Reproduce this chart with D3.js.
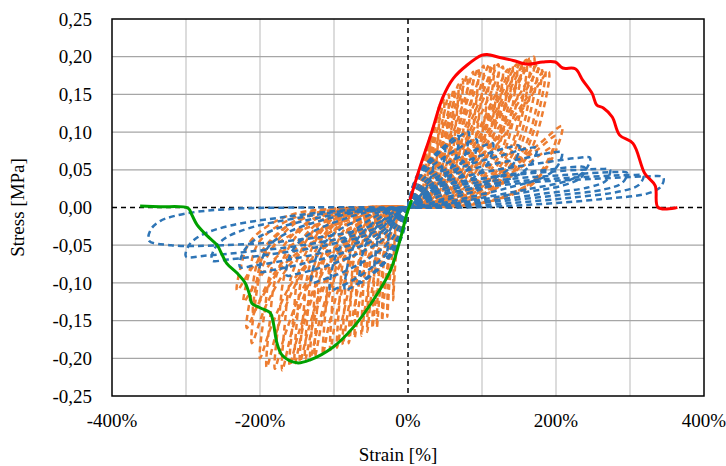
<!DOCTYPE html>
<html lang="it">
<head>
  <meta charset="UTF-8">
  <title>Stress - Strain</title>
  <script src="https://d3js.org/d3.v7.min.js"></script>
  <style>
    body { margin: 0; background: #fff; }
    text { font-family: "Liberation Serif", "Times New Roman", serif; fill: #000; }
  </style>
</head>
<body>
  <div id="my_dataviz"></div>
  <script>
    // ---- dati: [strain %, stress MPa] ----
    var xTicks = [-400, -200, 0, 200, 400];
    var xGrid = [-300, -100, 100, 300];
    var yTicks = [-0.25, -0.20, -0.15, -0.10, -0.05, 0, 0.05, 0.10, 0.15, 0.20, 0.25];

    // inviluppo trazione (rosso)
    var redCurve = [[2.7,0.010],[16,0.053],[32,0.100],[47,0.146],[61,0.171],[80,0.189],[100,0.202],[107,0.203],
      [124,0.199],[142,0.195],[162,0.190],[182,0.193],[199,0.193],[209,0.185],[226,0.184],[236,0.169],[249,0.151],
      [255,0.136],[264,0.132],[276,0.120],[286,0.096],[304,0.085],[320,0.045],[334,0.029],[338,0.000],[364,0.000]];

    // inviluppo compressione (verde)
    var greenCurve = [[-362,0.002],[-335,0.001],[-297,-0.001],[-292,-0.010],[-285,-0.023],[-272,-0.037],[-258,-0.050],
      [-251,-0.063],[-245,-0.074],[-231,-0.087],[-220,-0.100],[-214,-0.116],[-211,-0.127],[-200,-0.133],[-186,-0.140],
      [-182,-0.153],[-177,-0.180],[-170,-0.196],[-150,-0.206],[-132,-0.202],[-101,-0.185],[-74,-0.159],[-47,-0.123],
      [-24,-0.084],[-11,-0.044],[-1.4,-0.008],[5,0.010]];

    // cicli arancioni - trazione
    var orangeTension = [
      [[0,0],[7.5,0.012],[15.5,0.036],[21,0.062],[25,0.08],[24,0.056],[21,0.03],[15,0.01],[6,0.001],[0,0]],
      [[0,0],[10.5,0.017],[22,0.05],[30,0.086],[35,0.11],[33.6,0.077],[30,0.042],[21,0.013],[9,0.001],[0,0]],
      [[0,0],[13,0.021],[27,0.062],[37,0.108],[43,0.138],[41,0.097],[37,0.052],[26,0.017],[11,0.001],[0,0]],
      [[0,0],[16.5,0.023],[34,0.068],[47,0.117],[55,0.15],[53,0.105],[47,0.057],[33,0.018],[14,0.002],[0,0]],
      [[0,0],[20,0.024],[42,0.073],[58,0.127],[68,0.163],[65,0.114],[58,0.062],[41,0.02],[17,0.002],[0,0]],
      [[0,0],[24,0.026],[50,0.079],[68,0.137],[80,0.175],[77,0.123],[68,0.067],[48,0.021],[20,0.002],[0,0]],
      [[0,0],[28.5,0.028],[59,0.083],[81,0.144],[95,0.185],[91,0.13],[81,0.07],[57,0.022],[24,0.002],[0,0]],
      [[0,0],[33,0.029],[68,0.086],[93.5,0.148],[110,0.19],[105.6,0.133],[93.5,0.072],[66,0.023],[27.5,0.002],[0,0]],
      [[0,0],[36.6,0.029],[75.6,0.086],[103.7,0.148],[122,0.19],[117,0.133],[103.7,0.072],[73,0.023],[30.5,0.002],[0,0]],
      [[0,0],[40.5,0.027],[83.7,0.082],[114.8,0.143],[135,0.183],[129.6,0.128],[114.8,0.07],[81,0.022],[33.8,0.002],[0,0]],
      [[0,0],[44,0.029],[91,0.086],[125,0.148],[147,0.19],[141,0.133],[125,0.072],[88,0.023],[37,0.002],[0,0]],
      [[0,0],[48,0.029],[99,0.088],[136,0.153],[160,0.196],[153.6,0.137],[136,0.074],[96,0.024],[40,0.002],[0,0]],
      [[0,0],[51,0.03],[105,0.09],[144.5,0.156],[170,0.2],[163,0.14],[144.5,0.076],[102,0.024],[42.5,0.002],[0,0]],
      [[0,0],[54,0.028],[112,0.084],[153,0.145],[180,0.186],[173,0.13],[153,0.071],[108,0.022],[45,0.002],[0,0]],
      [[0,0],[57,0.027],[118,0.081],[161.5,0.14],[190,0.18],[182,0.126],[161.5,0.068],[114,0.022],[47.5,0.002],[0,0]],
      [[0,0],[62,0.016],[129,0.049],[177,0.084],[208,0.108],[200,0.076],[177,0.041],[125,0.013],[52,0.001],[0,0]],
      [[0,0],[59,0.012],[121.5,0.036],[167,0.062],[196,0.08],[188,0.056],[167,0.03],[118,0.01],[49,0.001],[0,0]],
      [[0,0],[10.5,0.019],[19.5,0.0475],[26,0.076],[30,0.095],[28.5,0.0646],[25,0.033],[17.4,0.0095],[6.6,0.0005],[0,0]],
      [[0,0],[17,0.029],[32,0.0725],[42.6,0.116],[49,0.145],[46.5,0.0986],[40.7,0.051],[28.4,0.0145],[10.8,0.0007],[0,0]],
      [[0,0],[21.7,0.031],[40.3,0.0785],[54,0.126],[62,0.157],[59,0.107],[51.5,0.055],[36,0.016],[13.6,0.0008],[0,0]],
      [[0,0],[26,0.034],[48,0.085],[64.4,0.136],[74,0.17],[70.3,0.116],[61.4,0.0595],[43,0.017],[16.3,0.001],[0,0]],
      [[0,0],[30.8,0.036],[57,0.09],[76.6,0.144],[88,0.18],[83.6,0.122],[73,0.063],[51,0.018],[19.4,0.001],[0,0]],
      [[0,0],[35.7,0.0376],[66,0.094],[88.7,0.15],[102,0.188],[97,0.128],[84.7,0.066],[59,0.019],[22.4,0.001],[0,0]],
      [[0,0],[40.6,0.038],[75.4,0.095],[101,0.152],[116,0.19],[110,0.129],[96,0.0665],[67,0.019],[25.5,0.001],[0,0]],
      [[0,0],[44.8,0.037],[83,0.0935],[111,0.15],[128,0.187],[121.6,0.127],[106,0.065],[74,0.019],[28,0.001],[0,0]],
      [[0,0],[49,0.0376],[91.6,0.094],[122.7,0.15],[141,0.188],[134,0.128],[117,0.066],[82,0.019],[31,0.001],[0,0]],
      [[0,0],[53.6,0.0386],[99.5,0.0965],[133,0.154],[153,0.193],[145,0.131],[127,0.0675],[89,0.019],[33.7,0.001],[0,0]],
      [[0,0],[57.8,0.04],[107,0.099],[143.6,0.158],[165,0.198],[157,0.135],[137,0.069],[96,0.02],[36,0.001],[0,0]],
      [[0,0],[61,0.038],[114,0.095],[152,0.152],[175,0.19],[166,0.129],[145,0.0665],[101.5,0.019],[38.5,0.001],[0,0]],
      [[0,0],[65,0.0366],[120,0.0915],[161,0.146],[185,0.183],[176,0.124],[153.5,0.064],[107,0.018],[40.7,0.001],[0,0]],
      [[0,0],[70,0.019],[130,0.0475],[174,0.076],[200,0.095],[190,0.0646],[166,0.033],[116,0.0095],[44,0.0005],[0,0]]
    ];

    // cicli arancioni - compressione
    var orangeCompression = [
      [[0,0],[-7,-0.012],[-14,-0.043],[-18,-0.086],[-20,-0.123],[-19.6,-0.089],[-18.4,-0.049],[-14,-0.012],[-6,0],[0,0]],
      [[0,0],[-9.8,-0.0145],[-19.6,-0.051],[-25.2,-0.1015],[-28,-0.145],[-27.4,-0.104],[-25.8,-0.058],[-19.6,-0.0145],[-8.4,0],[0,0]],
      [[0,0],[-14.7,-0.016],[-29.4,-0.056],[-37.8,-0.111],[-42,-0.159],[-41,-0.114],[-38.6,-0.064],[-29.4,-0.016],[-12.6,0],[0,0]],
      [[0,0],[-19,-0.0165],[-38.5,-0.058],[-49.5,-0.1155],[-55,-0.165],[-54,-0.119],[-50.6,-0.066],[-38.5,-0.0165],[-16.5,0],[0,0]],
      [[0,0],[-25,-0.017],[-50,-0.061],[-65,-0.121],[-72,-0.173],[-70.6,-0.125],[-66,-0.069],[-50,-0.017],[-21.6,0],[0,0]],
      [[0,0],[-31,-0.018],[-62,-0.064],[-79,-0.127],[-88,-0.182],[-86,-0.131],[-81,-0.073],[-62,-0.018],[-26,0],[0,0]],
      [[0,0],[-37,-0.019],[-73.5,-0.066],[-94.5,-0.132],[-105,-0.189],[-103,-0.136],[-96.6,-0.076],[-73.5,-0.019],[-31.5,0],[0,0]],
      [[0,0],[-44,-0.02],[-88,-0.069],[-113,-0.139],[-126,-0.198],[-123.5,-0.143],[-116,-0.079],[-88,-0.02],[-38,0],[0,0]],
      [[0,0],[-48.6,-0.02],[-97,-0.071],[-125,-0.141],[-139,-0.202],[-136,-0.145],[-128,-0.081],[-97,-0.02],[-42,0],[0,0]],
      [[0,0],[-53.6,-0.021],[-107,-0.072],[-138,-0.145],[-153,-0.207],[-150,-0.149],[-141,-0.083],[-107,-0.021],[-46,0],[0,0]],
      [[0,0],[-59.5,-0.022],[-119,-0.076],[-153,-0.151],[-170,-0.216],[-166.6,-0.156],[-156,-0.086],[-119,-0.022],[-51,0],[0,0]],
      [[0,0],[-67,-0.021],[-134,-0.074],[-172,-0.148],[-191,-0.212],[-187,-0.153],[-176,-0.085],[-134,-0.021],[-57,0],[0,0]],
      [[0,0],[-74,-0.018],[-148,-0.063],[-190,-0.126],[-211,-0.18],[-207,-0.13],[-194,-0.072],[-148,-0.018],[-63,0],[0,0]],
      [[0,0],[-73,-0.014],[-146,-0.049],[-188,-0.098],[-209,-0.14],[-205,-0.101],[-192,-0.056],[-146,-0.014],[-63,0],[0,0]],
      [[0,0],[-81,-0.011],[-162,-0.0385],[-208,-0.077],[-231,-0.11],[-226,-0.079],[-212.5,-0.044],[-162,-0.011],[-69,0],[0,0]],
      [[0,0],[-14,-0.0225],[-26,-0.0675],[-32,-0.117],[-35,-0.15],[-34,-0.105],[-31.5,-0.0525],[-23,-0.012],[-9,0],[0,0]],
      [[0,0],[-19,-0.024],[-36,-0.072],[-44,-0.125],[-48,-0.16],[-46.6,-0.112],[-43,-0.056],[-31,-0.013],[-12,0],[0,0]],
      [[0,0],[-25,-0.0255],[-47,-0.0765],[-58,-0.133],[-63,-0.17],[-61,-0.119],[-57,-0.06],[-41,-0.014],[-16,0],[0,0]],
      [[0,0],[-32,-0.027],[-60,-0.081],[-74,-0.14],[-80,-0.18],[-77.6,-0.126],[-72,-0.063],[-52,-0.014],[-20,0],[0,0]],
      [[0,0],[-38,-0.028],[-72,-0.084],[-88,-0.145],[-96,-0.186],[-93,-0.13],[-86,-0.065],[-62,-0.015],[-24,0],[0,0]],
      [[0,0],[-46,-0.029],[-86,-0.088],[-106,-0.152],[-115,-0.195],[-111.5,-0.137],[-103.5,-0.068],[-75,-0.016],[-29,0],[0,0]],
      [[0,0],[-53,-0.03],[-99,-0.09],[-121,-0.156],[-132,-0.2],[-128,-0.14],[-119,-0.07],[-86,-0.016],[-33,0],[0,0]],
      [[0,0],[-58,-0.031],[-109.5,-0.092],[-134,-0.16],[-146,-0.205],[-141.6,-0.1435],[-131,-0.072],[-95,-0.016],[-36.5,0],[0,0]],
      [[0,0],[-64,-0.0315],[-120,-0.0945],[-147,-0.164],[-160,-0.21],[-155,-0.147],[-144,-0.0735],[-104,-0.017],[-40,0],[0,0]],
      [[0,0],[-72,-0.032],[-135,-0.096],[-165.6,-0.167],[-180,-0.214],[-174.6,-0.15],[-162,-0.075],[-117,-0.017],[-45,0],[0,0]],
      [[0,0],[-80,-0.03],[-150,-0.09],[-184,-0.156],[-200,-0.2],[-194,-0.14],[-180,-0.07],[-130,-0.016],[-50,0],[0,0]],
      [[0,0],[-87,-0.024],[-163.5,-0.072],[-200.6,-0.125],[-218,-0.16],[-211.5,-0.112],[-196,-0.056],[-142,-0.013],[-54.5,0],[0,0]],
      [[0,0],[-89,-0.019],[-166.5,-0.056],[-204,-0.0975],[-222,-0.125],[-215,-0.0875],[-200,-0.044],[-144,-0.01],[-55.5,0],[0,0]]
    ];

    // cicli blu - trazione
    var blueTension = [
      [[0,0],[60,0.02],[150,0.032],[250,0.038],[320,0.041],[345,0.040],[342,0.028],[325,0.019],[260,0.011],[170,0.004],[80,0.0],[0,0]],
      [[0,0],[50,0.022],[140,0.034],[230,0.04],[300,0.043],[318,0.042],[312,0.03],[290,0.022],[220,0.013],[140,0.006],[60,0.001],[0,0]],
      [[0,0],[45,0.024],[130,0.037],[210,0.043],[280,0.047],[296,0.046],[290,0.033],[265,0.024],[200,0.016],[120,0.008],[50,0.002],[0,0]],
      [[0,0],[40,0.027],[115,0.04],[200,0.048],[260,0.051],[273,0.05],[268,0.036],[245,0.027],[180,0.018],[110,0.009],[45,0.002],[0,0]],
      [[0,0],[40,0.03],[110,0.048],[180,0.059],[232,0.066],[246,0.066],[240,0.05],[220,0.037],[160,0.024],[95,0.012],[40,0.003],[0,0]],
      [[0,0],[40,0.026],[110,0.04],[180,0.049],[228,0.054],[239,0.053],[234,0.04],[212,0.03],[150,0.019],[90,0.009],[35,0.002],[0,0]],
      [[0,0],[35,0.033],[95,0.053],[155,0.065],[196,0.073],[208,0.073],[202,0.055],[185,0.041],[135,0.026],[80,0.013],[30,0.003],[0,0]],
      [[0,0],[30,0.035],[80,0.056],[130,0.07],[164,0.079],[174,0.079],[168,0.06],[152,0.045],[110,0.028],[65,0.014],[25,0.003],[0,0]],
      [[0,0],[25,0.036],[70,0.058],[112,0.073],[141,0.081],[150,0.082],[145,0.062],[131,0.047],[95,0.029],[55,0.014],[20,0.003],[0,0]],
      [[0,0],[20,0.037],[55,0.06],[88,0.075],[108,0.084],[115,0.085],[111,0.065],[100,0.049],[73,0.03],[42,0.015],[15,0.003],[0,0]],
      [[0,0],[16,0.04],[45,0.064],[71,0.08],[87,0.089],[93,0.09],[90,0.068],[81,0.051],[59,0.032],[34,0.016],[12,0.003],[0,0]],
      [[0,0],[14,0.044],[40,0.071],[63,0.089],[77,0.099],[82,0.1],[79,0.076],[71,0.057],[52,0.035],[30,0.018],[10,0.004],[0,0]],
      [[0,0],[12,0.042],[33,0.067],[52,0.084],[64,0.094],[68,0.095],[66,0.072],[59,0.054],[43,0.033],[25,0.017],[8,0.004],[0,0]],
      [[0,0],[9,0.034],[24,0.055],[38,0.069],[47,0.077],[50,0.078],[48,0.059],[43,0.044],[32,0.027],[18,0.014],[6,0.003],[0,0]],
      [[0,0],[6,0.027],[16,0.044],[26,0.055],[32,0.061],[34,0.062],[33,0.047],[29,0.035],[22,0.022],[12,0.011],[4,0.002],[0,0]]
    ];

    // cicli blu - compressione
    var blueCompression = [
      [[0,0],[-60,-0.028],[-150,-0.043],[-250,-0.05],[-320,-0.05],[-350,-0.044],[-348,-0.03],[-335,-0.018],[-300,-0.008],[-240,-0.002],[-150,0.0],[0,0]],
      [[0,0],[-50,-0.03],[-130,-0.048],[-210,-0.058],[-275,-0.064],[-300,-0.065],[-296,-0.05],[-280,-0.037],[-240,-0.024],[-170,-0.013],[-90,-0.004],[0,0]],
      [[0,0],[-45,-0.032],[-115,-0.051],[-185,-0.062],[-243,-0.069],[-265,-0.07],[-261,-0.054],[-246,-0.04],[-210,-0.026],[-150,-0.014],[-80,-0.004],[0,0]],
      [[0,0],[-40,-0.035],[-100,-0.056],[-160,-0.069],[-208,-0.077],[-227,-0.079],[-223,-0.06],[-210,-0.045],[-180,-0.029],[-128,-0.015],[-68,-0.005],[0,0]],
      [[0,0],[-35,-0.037],[-88,-0.06],[-140,-0.074],[-183,-0.083],[-200,-0.085],[-196,-0.065],[-185,-0.048],[-158,-0.031],[-113,-0.016],[-60,-0.005],[0,0]],
      [[0,0],[-29,-0.039],[-72,-0.063],[-115,-0.079],[-150,-0.088],[-164,-0.09],[-161,-0.068],[-152,-0.051],[-130,-0.033],[-92,-0.017],[-49,-0.005],[0,0]],
      [[0,0],[-23,-0.043],[-57,-0.07],[-91,-0.087],[-119,-0.097],[-130,-0.1],[-127,-0.076],[-120,-0.057],[-103,-0.037],[-73,-0.019],[-39,-0.006],[0,0]],
      [[0,0],[-18,-0.047],[-46,-0.077],[-74,-0.096],[-96,-0.107],[-105,-0.11],[-103,-0.084],[-97,-0.063],[-83,-0.04],[-59,-0.021],[-31,-0.006],[0,0]],
      [[0,0],[-15,-0.047],[-37,-0.077],[-60,-0.096],[-78,-0.107],[-85,-0.11],[-83,-0.084],[-78,-0.063],[-67,-0.04],[-48,-0.021],[-25,-0.006],[0,0]],
      [[0,0],[-11,-0.043],[-29,-0.07],[-46,-0.087],[-59,-0.097],[-65,-0.1],[-64,-0.076],[-60,-0.057],[-51,-0.037],[-36,-0.019],[-19,-0.006],[0,0]],
      [[0,0],[-8,-0.037],[-20,-0.06],[-32,-0.074],[-41,-0.083],[-45,-0.085],[-44,-0.065],[-42,-0.048],[-36,-0.031],[-25,-0.016],[-13,-0.005],[0,0]],
      [[0,0],[-5,-0.028],[-12,-0.046],[-20,-0.057],[-25,-0.063],[-28,-0.065],[-27,-0.05],[-26,-0.037],[-22,-0.024],[-16,-0.012],[-8,-0.004],[0,0]]
    ];

    // ---- grafico ----
    var margin = {top: 19, right: 22, bottom: 70, left: 112},
    width = 726 - margin.left - margin.right,
    height = 466 - margin.top - margin.bottom;

    var svg = d3.select("#my_dataviz")
    .append("svg")
    .attr("width", 726)
    .attr("height", 466)
    .append("g")
    .attr("transform", "translate(" + margin.left + "," + margin.top + ")");

    var x = d3.scaleLinear().domain([-400, 400]).range([0, width]);
    var y = d3.scaleLinear().domain([-0.25, 0.25]).range([height, 0]);

    var it = d3.formatLocale({decimal: ",", thousands: ".", grouping: [3], currency: ["", "€"], minus: "-"});
    var fmtY = it.format(".2f");

    // griglia verticale (chiara)
    svg.append("g")
    .selectAll("line")
    .data(xTicks.concat(xGrid).filter(function(d){ return d > -400 && d < 400 && d != 0; }))
    .enter()
    .append("line")
    .attr("x1", function(d){ return x(d); })
    .attr("x2", function(d){ return x(d); })
    .attr("y1", 0).attr("y2", height)
    .style("stroke", "#d0d0d0").style("stroke-width", 1.5);

    // griglia orizzontale (più scura)
    svg.append("g")
    .selectAll("line")
    .data(yTicks.filter(function(d){ return d > -0.25 && d < 0.25 && d != 0; }))
    .enter()
    .append("line")
    .attr("x1", 0).attr("x2", width)
    .attr("y1", function(d){ return y(d); })
    .attr("y2", function(d){ return y(d); })
    .style("stroke", "#a6a6a6").style("stroke-width", 1.3);

    // assi zero tratteggiati
    svg.append("line").attr("x1", 0).attr("x2", width).attr("y1", y(0)).attr("y2", y(0))
    .style("stroke", "#000").style("stroke-width", 1.5).style("stroke-dasharray", "5,4");
    svg.append("line").attr("x1", x(0)).attr("x2", x(0)).attr("y1", 0).attr("y2", height)
    .style("stroke", "#000").style("stroke-width", 1.5).style("stroke-dasharray", "5,4");

    var line = d3.line()
    .x(function(d){ return x(d[0]); })
    .y(function(d){ return y(d[1]); })
    .curve(d3.curveCatmullRom.alpha(0.5));

    var plot = svg.append("g");

    function drawLoops(data, color) {
      plot.append("g")
      .selectAll("path")
      .data(data)
      .enter()
      .append("path")
      .attr("d", line)
      .style("fill", "none")
      .style("stroke", color)
      .style("stroke-width", 2.5)
      .style("stroke-dasharray", "6,4");
    }

    drawLoops(orangeTension, "#ed7d31");
    drawLoops(orangeCompression, "#ed7d31");
    drawLoops(blueTension, "#2e75b6");
    drawLoops(blueCompression, "#2e75b6");

    plot.append("path").datum(redCurve).attr("d", line)
    .style("fill", "none").style("stroke", "#ff0000").style("stroke-width", 3);
    plot.append("path").datum(greenCurve).attr("d", line)
    .style("fill", "none").style("stroke", "#00a000").style("stroke-width", 3);

    // bordo area grafico
    svg.append("rect").attr("x", 0).attr("y", 0).attr("width", width).attr("height", height)
    .style("fill", "none").style("stroke", "#000").style("stroke-width", 1.5);

    // etichette asse Y
    svg.append("g")
    .selectAll("text")
    .data(yTicks)
    .enter()
    .append("text")
    .attr("x", -20)
    .attr("y", function(d){ return y(d); })
    .attr("dy", "0.35em")
    .attr("text-anchor", "end")
    .style("font-size", "19px")
    .text(function(d){ return fmtY(d); });

    // etichette asse X
    svg.append("g")
    .selectAll("text")
    .data(xTicks)
    .enter()
    .append("text")
    .attr("x", function(d){ return x(d); })
    .attr("y", height + 31)
    .attr("text-anchor", "middle")
    .style("font-size", "19px")
    .text(function(d){ return d + "%"; });

    // titoli assi
    svg.append("text").attr("x", x(0) - 10).attr("y", height + 65)
    .attr("text-anchor", "middle").style("font-size", "19px").text("Strain [%]");
    svg.append("text").attr("transform", "rotate(-90)")
    .attr("x", -y(0)).attr("y", -88)
    .attr("text-anchor", "middle").style("font-size", "19px").text("Stress [MPa]");
  </script>
</body>
</html>
